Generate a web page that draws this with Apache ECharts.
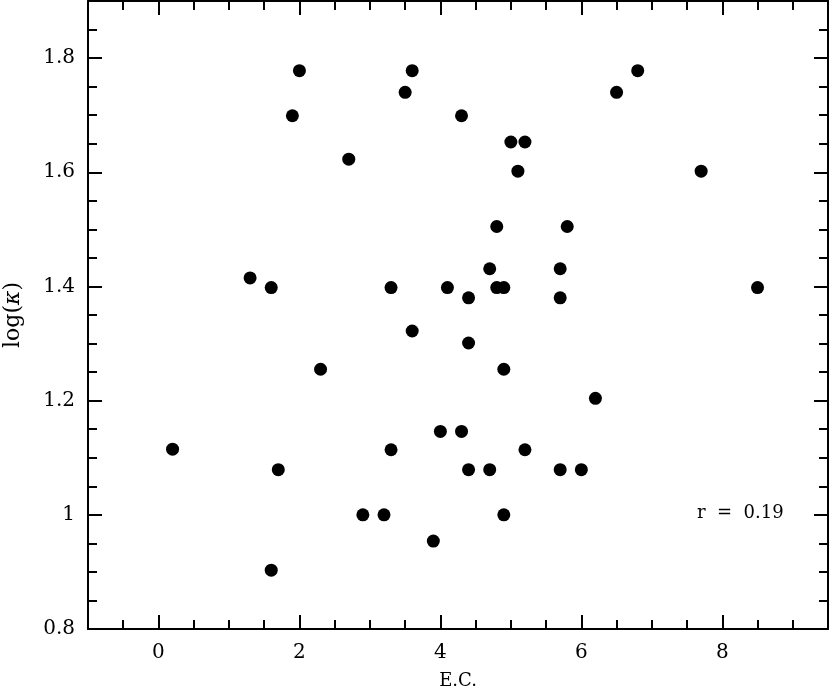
<!DOCTYPE html>
<html>
<head>
<meta charset="utf-8">
<script src="https://cdn.jsdelivr.net/npm/echarts@6/dist/echarts.min.js"></script>
<style>
  html, body { margin: 0; padding: 0; background: #fff; }
  #main { width: 830px; height: 686px; }
</style>
</head>
<body>
<div id="main"></div>
<script>
// E.C. values (x)
var ecValues = [0.2, 1.3, 1.6, 1.6, 1.7, 1.9, 2.0, 2.3, 2.7, 2.9, 3.2, 3.3, 3.3, 3.5, 3.6,
  3.6, 3.9, 4.0, 4.1, 4.3, 4.3, 4.4, 4.4, 4.4, 4.7, 4.7, 4.8, 4.8, 4.9, 4.9,
  4.9, 5.0, 5.1, 5.2, 5.2, 5.7, 5.7, 5.7, 5.8, 6.0, 6.2, 6.5, 6.8, 7.7, 8.5];
// log(kappa) values (y)
var logKappa = [1.115, 1.415, 1.398, 0.903, 1.079, 1.699, 1.778, 1.255, 1.623, 1.0, 1.0, 1.114, 1.398, 1.740, 1.778,
  1.322, 0.954, 1.146, 1.398, 1.699, 1.146, 1.380, 1.301, 1.079, 1.431, 1.079, 1.505, 1.398, 1.398, 1.255,
  1.0, 1.653, 1.602, 1.653, 1.114, 1.431, 1.380, 1.079, 1.505, 1.079, 1.204, 1.740, 1.778, 1.602, 1.398];

var xMajor = [0, 2, 4, 6, 8];
var xMinor = [-0.5, 0, 0.5, 1, 1.5, 2, 2.5, 3, 3.5, 4, 4.5, 5, 5.5, 6, 6.5, 7, 7.5, 8, 8.5, 9];
var yMajor = [0.8, 1, 1.2, 1.4, 1.6, 1.8];
var yMinor = [0.85, 0.9, 0.95, 1.05, 1.1, 1.15, 1.25, 1.3, 1.35, 1.45, 1.5, 1.55, 1.65, 1.7, 1.75, 1.85];

var points = [];
for (var i = 0; i < ecValues.length; i++) {
  points.push([ecValues[i], logKappa[i]]);
}

var font = 'DejaVu Serif';
var lineStyle = { color: '#000', width: 2 };

function xAx(pos, ticks, len, main) {
  return {
    type: 'value', min: -1, max: 9.5, position: pos,
    axisLine: { show: main, onZero: false, lineStyle: lineStyle },
    axisTick: { show: true, inside: true, length: len, customValues: ticks, lineStyle: lineStyle },
    axisLabel: {
      show: main && pos === 'bottom', customValues: xMajor, margin: 14,
      color: '#000', fontFamily: font, fontSize: 20
    },
    splitLine: { show: false },
    name: main && pos === 'bottom' ? 'E.C.' : '',
    nameLocation: 'middle', nameGap: 43,
    nameTextStyle: { color: '#000', fontFamily: font, fontSize: 18 }
  };
}
function yAx(pos, ticks, len, main) {
  return {
    type: 'value', min: 0.8, max: 1.9, position: pos,
    axisLine: { show: main, onZero: false, lineStyle: lineStyle },
    axisTick: { show: true, inside: true, length: len, customValues: ticks, lineStyle: lineStyle },
    axisLabel: {
      show: main && pos === 'left', customValues: yMajor, margin: 13,
      color: '#000', fontFamily: font, fontSize: 20
    },
    splitLine: { show: false },
    name: main && pos === 'left' ? 'log({k|κ})' : '',
    nameLocation: 'middle', nameGap: 64,
    nameTextStyle: {
      color: '#000', fontFamily: font, fontSize: 22,
      rich: { k: { fontFamily: font, fontSize: 22, fontStyle: 'italic', color: '#000' } }
    }
  };
}

var chart = echarts.init(document.getElementById('main'));
chart.setOption({
  animation: false,
  backgroundColor: '#fff',
  grid: { left: 88, right: 2, top: 1, bottom: 57, containLabel: false, outerBoundsMode: 'none' },
  xAxis: [
    xAx('bottom', xMajor, 14, true),
    xAx('bottom', xMinor, 9, false),
    xAx('top', xMajor, 14, true),
    xAx('top', xMinor, 9, false)
  ],
  yAxis: [
    yAx('left', yMajor, 14, true),
    yAx('left', yMinor, 9, false),
    yAx('right', yMajor, 14, true),
    yAx('right', yMinor, 9, false)
  ],
  graphic: [{
    type: 'text', left: 697, top: 504,
    style: { text: 'r  =  0.19', fill: '#000', font: '18px "DejaVu Serif"' }
  }],
  series: [{
    type: 'scatter',
    xAxisIndex: 0, yAxisIndex: 0,
    symbol: 'circle', symbolSize: 13,
    itemStyle: { color: '#000', opacity: 1 },
    data: points
  }]
});
</script>
</body>
</html>
